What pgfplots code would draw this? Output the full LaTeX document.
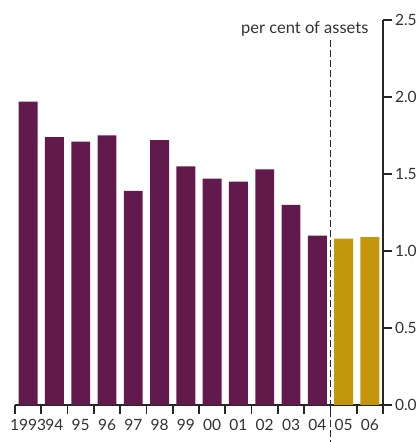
\documentclass[border=0pt]{standalone}
\usepackage{pgfplots}
\pgfplotsset{compat=1.18}
\usepackage{fontspec}
\setmainfont{Lato}
\definecolor{plum}{RGB}{98,26,77}
\definecolor{gold}{RGB}{196,150,12}
\definecolor{txt}{RGB}{50,50,50}
\begin{document}
\begin{tikzpicture}[x=1pt,y=1pt]
\useasboundingbox (0,0) rectangle (419,442);
\clip (0,0) rectangle (419,442);
\begin{axis}[
  at={(15pt,37pt)}, anchor=south west,
  scale only axis, width=368pt, height=385pt,
  xmin=-0.5, xmax=13.5, ymin=0, ymax=2.5,
  clip=false,
  axis x line*=bottom, axis y line*=right,
  axis line style={line width=1.6pt, color=black!85, -},
  tick style={line width=1.6pt, color=black!85},
  tick align=outside, major tick length=8.5pt,
  ytick={0,0.5,...,2.5},
  yticklabel style={/pgf/number format/.cd, fixed, fixed zerofill, precision=1},
  xtick={-0.5,0.5,...,13.5}, xticklabels={},
  extra x ticks={0,...,13},
  extra x tick labels={1993,94,95,96,97,98,99,00,01,02,03,04,05,06},
  extra x tick style={major tick length=0pt, tick label style={yshift=-11pt}},
  ticklabel style={font=\fontsize{15.5}{18}\selectfont, color=txt},
  /pgf/number format/assume math mode=true,
]
\addplot[ybar, bar shift=0pt, bar width=0.72, fill=plum, draw=none]
  coordinates {(0,1.97) (1,1.74) (2,1.71) (3,1.75) (4,1.39) (5,1.72) (6,1.55)
               (7,1.47) (8,1.45) (9,1.53) (10,1.30) (11,1.10)};
\addplot[ybar, bar shift=0pt, bar width=0.72, fill=gold, draw=none]
  coordinates {(12,1.08) (13,1.09)};
\draw[line width=1.5pt, dash pattern=on 7pt off 3pt, color=black!85]
  (axis cs:11.5,2.37) -- (axis cs:11.5,-0.3);
\node[anchor=base east, font=\fontsize{16.5}{18}\selectfont, color=txt]
  at (axis cs:13.08,2.415) {per cent of assets};
\end{axis}
\end{tikzpicture}
\end{document}
